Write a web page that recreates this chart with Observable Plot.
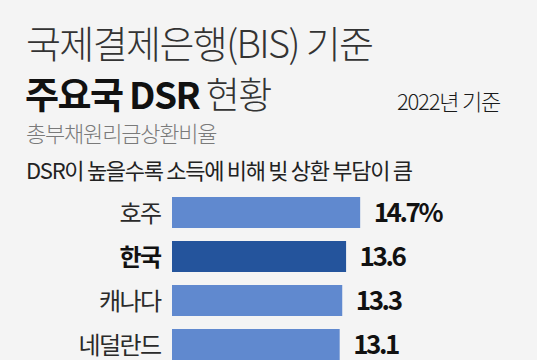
<!DOCTYPE html>
<html>
<head>
<meta charset="utf-8">
<script src="https://cdn.jsdelivr.net/npm/d3@7"></script>
<script src="https://cdn.jsdelivr.net/npm/@observablehq/plot@0.6"></script>
<style>
  html, body { margin: 0; padding: 0; background: #f4f4f4; }
  body { width: 537px; height: 360px; overflow: hidden; position: relative; font-family: "Noto Sans CJK KR", "Noto Sans", sans-serif; }
  .t { position: absolute; line-height: 1; white-space: nowrap; }
  .t span { display: inline-block; line-height: 1; }
  #chart { position: absolute; left: 0; top: 180px; }
</style>
</head>
<body>
<div class="t" style="left:26px; top:23px; font-size:38px; font-weight:300; color:#333; letter-spacing:-1.6px;">국제결제은행(BIS) 기준</div>
<div class="t" style="left:25px; top:75px; font-size:37px; color:#111; letter-spacing:-1.6px;"><span style="font-weight:700;">주요국 DSR</span> <span style="font-weight:300; color:#333;">현황</span></div>
<div class="t" style="right:37px; top:89px; font-size:22px; font-weight:300; color:#1a1a1a; letter-spacing:-1.2px;">2022년 기준</div>
<div class="t" style="left:26px; top:121px; font-size:22px; font-weight:300; color:#7a7a7a; letter-spacing:-1.2px;">총부채원리금상환비율</div>
<div class="t" style="left:26px; top:158px; font-size:22px; color:#222; letter-spacing:-1.3px;">DSR이 높을수록 소득에 비해 빚 상환 부담이 큼</div>
<div id="chart"></div>
<script>
const countries = ["호주", "한국", "캐나다", "네덜란드"];
const values = [14.7, 13.6, 13.3, 13.1];
const valueLabels = ["14.7%", "13.6", "13.3", "13.1"];
const highlight = "한국";

const data = countries.map((c, i) => ({country: c, value: values[i], label: valueLabels[i]}));
const normal = data.filter(d => d.country !== highlight);
const hl = data.filter(d => d.country === highlight);

const chart = Plot.plot({
  width: 537,
  height: 194,
  marginTop: 4,
  marginBottom: 0,
  marginLeft: 172,
  marginRight: 109,
  style: {background: "transparent", fontFamily: "'Noto Sans CJK KR', sans-serif"},
  x: {domain: [0, 20], axis: null},
  y: {domain: countries, padding: 0.29, axis: null},
  marks: [
    Plot.barX(data, {
      x: "value", y: "country",
      fill: d => d.country === highlight ? "#24549c" : "#6089cf"
    }),
    Plot.text(normal, {
      x: 0, y: "country", text: "country", textAnchor: "end", dx: -12, dy: 1,
      fontSize: 24, fontWeight: 400, fill: "#2a2a2a"
    }),
    Plot.text(hl, {
      x: 0, y: "country", text: "country", textAnchor: "end", dx: -12, dy: 1,
      fontSize: 24, fontWeight: 700, fill: "#111"
    }),
    Plot.text(data, {
      x: "value", y: "country", text: "label", textAnchor: "start", dx: 13, dy: 1,
      fontSize: 26, fontWeight: 700, fill: "#111", className: "val"
    })
  ]
});
chart.querySelectorAll("text").forEach(t => t.style.letterSpacing = "-1.6px");
chart.querySelectorAll(".val text").forEach(t => t.style.letterSpacing = "-2.4px");
document.getElementById("chart").appendChild(chart);
</script>
</body>
</html>
